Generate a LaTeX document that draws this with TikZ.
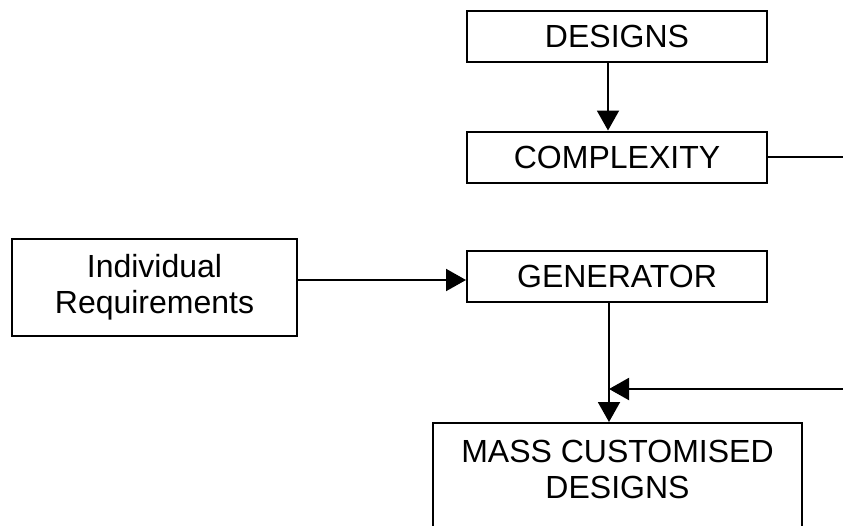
\documentclass[tikz,border=0pt]{standalone}
\usepackage{fontspec}
\setmainfont{Liberation Sans}
\usetikzlibrary{arrows.meta}
\begin{document}
\begin{tikzpicture}[x=1pt,y=-1pt,
  box/.style={draw,line width=2pt,minimum width=300pt,minimum height=51pt,inner sep=0pt,
    font=\fontsize{32}{36}\selectfont},
  arr/.style={line width=2pt,-{Triangle[length=20pt,width=22pt]}},
  ln/.style={line width=2pt}]
\useasboundingbox (0,0) rectangle (843,525);
\clip (0,0) rectangle (843,525);
\node[box] (designs) at (617,36) {DESIGNS};
\node[box] (complexity) at (617,157) {COMPLEXITY};
\node[box] (generator) at (617,276) {GENERATOR};
\node[box,minimum width=285pt,minimum height=97pt,align=center] (ireq) at (154.5,287.5) {Individual\\Requirements};
\node[draw,line width=2pt,minimum width=369pt,minimum height=140pt,inner sep=0pt] (massbox) at (617.5,493) {};
\node[font=\fontsize{32}{36}\selectfont,align=center,inner sep=0pt,anchor=north] (masstext) at (617.5,440) {MASS CUSTOMISED\\DESIGNS};
\coordinate (e1) at (843,157);
\coordinate (e2) at (843,389);
\coordinate (j) at (609,389);
\draw[arr] ([xshift=-9pt]designs.south) -- ([xshift=-9pt]complexity.north);
\draw[ln] (complexity.east) -- (e1);
\draw[arr] ([yshift=7.5pt]ireq.east) -- ([yshift=-4pt]generator.west);
\draw[arr] ([xshift=-8pt]generator.south) -- ([xshift=-8.5pt]massbox.north);
\draw[arr] (e2) -- (j);
\end{tikzpicture}
\end{document}
